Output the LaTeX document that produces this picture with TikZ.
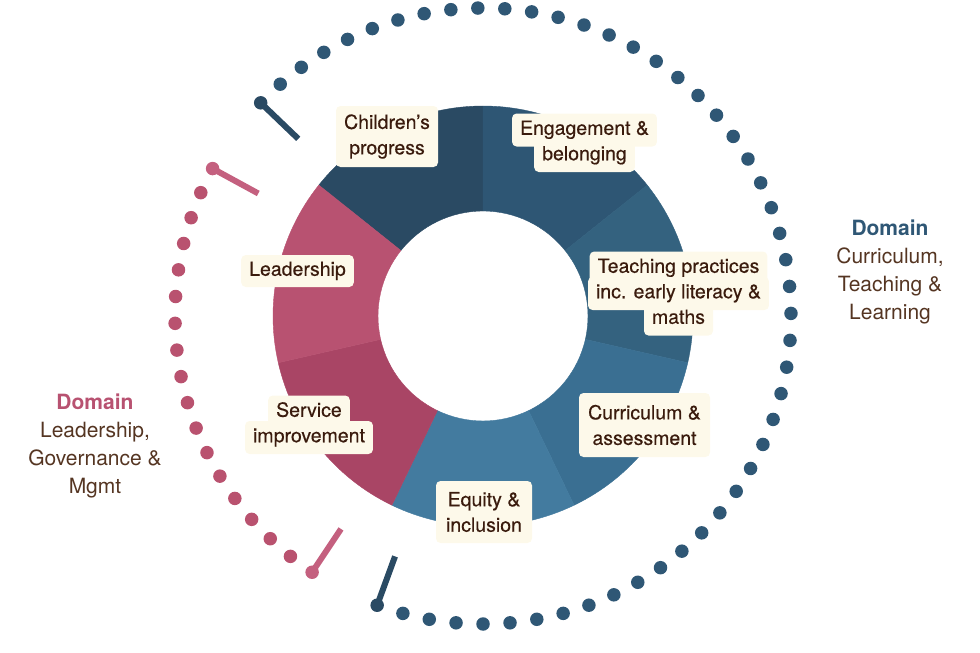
\documentclass[tikz,border=0pt]{standalone}
\usepackage{fontspec}
\setmainfont{TeX Gyre Heros}
\newfontfamily\chipfont[FakeBold=0.35]{TeX Gyre Heros}
\usepackage{xcolor}
\usepackage{tikz}
\usetikzlibrary{positioning}
\definecolor{progblue}{HTML}{2A4A63}
\definecolor{engblue}{HTML}{2E5674}
\definecolor{teachblue}{HTML}{34627F}
\definecolor{currblue}{HTML}{3A6F92}
\definecolor{equityblue}{HTML}{437B9F}
\definecolor{servicepink}{HTML}{A94565}
\definecolor{leadpink}{HTML}{B85271}
\definecolor{beadblue}{HTML}{2F5775}
\definecolor{beadpink}{HTML}{B9526F}
\definecolor{stickpink}{HTML}{C4607F}
\definecolor{chipfill}{HTML}{FDF9EA}
\definecolor{chiptext}{HTML}{3A1B0D}
\definecolor{domaintext}{HTML}{553522}
\tikzset{
    chipnode/.style = {fill=chipfill, text=chiptext, rectangle, rounded corners=0.45em, inner xsep=8pt,
      inner ysep=0pt, font=\chipfont\fontsize{19.5}{25.5}\selectfont, align=center},
    linenode/.style = {chipnode, text height=14pt, text depth=4.5pt, minimum height=33pt, node distance=25.5pt},
    domainnode/.style = {draw=none, fill=none, text=domaintext, inner sep=0pt, align=center,
      font=\fontsize{21}{28}\selectfont},
    beadnode/.style = {circle, fill, inner sep=0pt, minimum size=13.5pt},
    stickline/.style = {line width=6pt},
    every text node part/.style={align=center}
}
\newcommand{\ringpart}[3]{\fill[#1, draw=#1, line width=0.4pt] (#2:105) -- (#2:210) arc[start angle=#2, end angle=#3, radius=210]
  -- (#3:105) arc[start angle=#3, end angle=#2, radius=105] -- cycle;}

\begin{document}
\begin{tikzpicture}[x=1pt, y=1pt]
\useasboundingbox (0,0) rectangle (980,-653);

\begin{scope}[shift={(483,-316)}]
% ring of seven areas
\ringpart{progblue}{90}{141.43}
\ringpart{engblue}{38.57}{90}
\ringpart{teachblue}{-12.86}{38.57}
\ringpart{currblue}{-64.29}{-12.86}
\ringpart{equityblue}{-115.71}{-64.29}
\ringpart{servicepink}{-167.14}{-115.71}
\ringpart{leadpink}{141.43}{192.86}

% blue beads
\foreach \i in {1,...,48}
  \node [beadnode, beadblue] at ({136.2-\i*5.0265}:308) {};
\node [beadnode, progblue, name=BlueTop] at (136.2:308) {};
\coordinate (BlueTopEnd) at (136.2:256);
\node [beadnode, progblue, name=BlueLow] at (-110.1:308) {};
\coordinate (BlueLowEnd) at (-110.1:256);

% pink beads
\foreach \i in {1,...,16}
  \node [beadnode, beadpink] at ({151.4+\i*4.994}:308) {};
\node [beadnode, stickpink, name=PinkTop] at (151.4:308) {};
\coordinate (PinkTopEnd) at (151.4:256);
\node [beadnode, stickpink, name=PinkLow] at (236.3:308) {};
\coordinate (PinkLowEnd) at (236.3:256);
\end{scope}

\draw [stickline, progblue] (BlueTop.center) -- (BlueTopEnd);
\draw [stickline, progblue] (BlueLow.center) -- (BlueLowEnd);
\draw [stickline, stickpink] (PinkTop.center) -- (PinkTopEnd);
\draw [stickline, stickpink] (PinkLow.center) -- (PinkLowEnd);

% labels on the ring
\node [chipnode, name=Prog, minimum width=102pt, minimum height=61pt] at (387,-136.5) {Children’s\\progress};

\node [linenode, name=Eng1] at (584.5,-130) {Engagement \&};
\node [linenode, name=Eng2, below of=Eng1] {belonging};

\node [linenode, name=Teach1] at (678.5,-268) {Teaching practices};
\node [linenode, name=Teach2, below of=Teach1] {inc. early literacy \&};
\node [linenode, name=Teach3, below of=Teach2] {maths};

\node [chipnode, name=Curr, minimum width=131pt, minimum height=64pt] at (644.5,-425) {Curriculum \&\\assessment};

\node [chipnode, name=Equity, minimum width=96pt, minimum height=62pt] at (484,-512) {Equity \&\\inclusion};

\node [linenode, name=Serv1] at (309,-412) {Service};
\node [linenode, name=Serv2, below of=Serv1] {improvement};

\node [chipnode, name=Lead, minimum width=111pt, minimum height=32pt, text height=14pt, text depth=4.5pt] at (297.5,-271) {Leadership};

% domain texts
\node [domainnode, name=DomRight] at (890,-272) {\textbf{\color{beadblue}Domain}\\Curriculum,\\Teaching \&\\Learning};
\node [domainnode, name=DomLeft] at (95,-446) {\textbf{\color{leadpink}Domain}\\Leadership,\\Governance \&\\Mgmt};

\end{tikzpicture}
\end{document}
